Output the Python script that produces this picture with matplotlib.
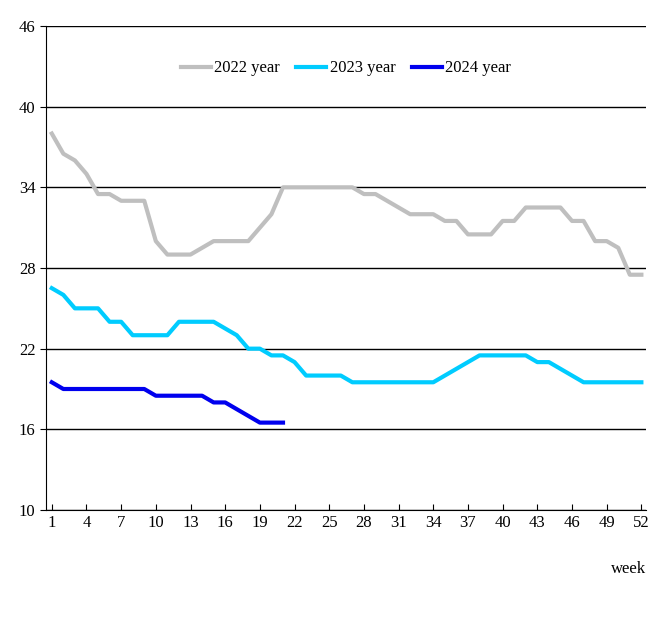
import numpy as np
from matplotlib import pyplot as plt

plt.rcParams['font.family'] = ['Liberation Serif', 'DejaVu Serif']

weeks = np.arange(1, 53)
y2022 = [38, 36.5, 36, 35, 33.5, 33.5, 33, 33, 33, 30, 29, 29, 29, 29.5, 30, 30, 30, 30,
         31, 32, 34, 34, 34, 34, 34, 34, 34, 33.5, 33.5, 33, 32.5, 32, 32, 32, 31.5, 31.5,
         30.5, 30.5, 30.5, 31.5, 31.5, 32.5, 32.5, 32.5, 32.5, 31.5, 31.5, 30, 30, 29.5,
         27.5, 27.5]
y2023 = [26.5, 26, 25, 25, 25, 24, 24, 23, 23, 23, 23, 24, 24, 24, 24, 23.5, 23, 22, 22,
         21.5, 21.5, 21, 20, 20, 20, 20, 19.5, 19.5, 19.5, 19.5, 19.5, 19.5, 19.5, 19.5,
         20, 20.5, 21, 21.5, 21.5, 21.5, 21.5, 21.5, 21, 21, 20.5, 20, 19.5, 19.5, 19.5,
         19.5, 19.5, 19.5]
y2024 = [19.5, 19, 19, 19, 19, 19, 19, 19, 19, 18.5, 18.5, 18.5, 18.5, 18.5, 18, 18, 17.5,
         17, 16.5, 16.5, 16.5]

fig = plt.figure(figsize=(6.68, 6.17), dpi=100)
ax = fig.add_axes([46/668, 1-510/617, 600/668, 484/617])
ax.plot(weeks, y2022, color='#bfbfbf', lw=3, label='2022 year')
ax.plot(weeks, y2023, color='#00ccff', lw=3, label='2023 year')
ax.plot(weeks[:len(y2024)], y2024, color='#0000ee', lw=3, label='2024 year')

ax.set_ylim(10, 46)
ax.set_yticks(range(10, 47, 6))
ax.set_xlim(0.5, 52.4)
ax.set_xticks(range(1, 53, 3))
ax.grid(axis='y', color='black', lw=1)
ax.set_axisbelow(True)
for s in ['top', 'right']:
    ax.spines[s].set_visible(False)
ax.tick_params(labelsize=12, length=4)
ax.tick_params(axis='x', direction='in')
ax.text(1.0, -0.121, 'week', transform=ax.transAxes, ha='right', va='center', fontsize=12)
ax.legend(loc='upper center', bbox_to_anchor=(0.5, 0.96), ncol=3, frameon=False,
          fontsize=12, handlelength=1.8, columnspacing=1.0, handletextpad=0.2)
fig.savefig('out.png')
